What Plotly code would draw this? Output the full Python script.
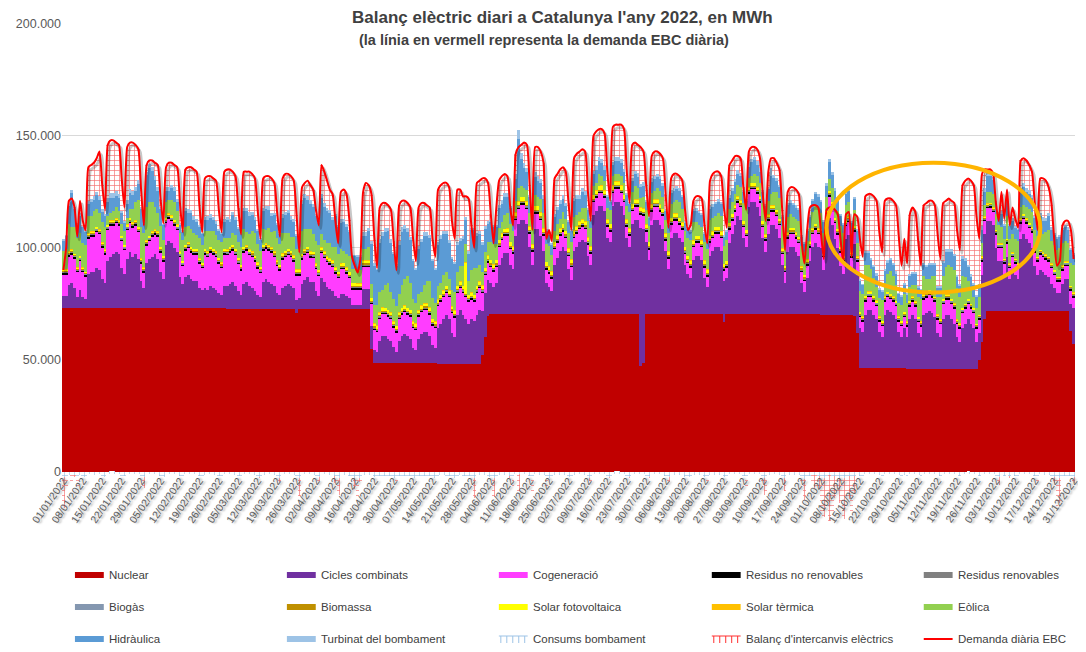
import pandas as pd
import plotly.graph_objects as go

FONT = "Liberation Sans, Arial, sans-serif"

DIES = pd.date_range("2022-01-01", "2022-12-31", freq="D")
TICKS = pd.date_range("2022-01-01", "2022-12-31", freq="7D")

# Daily values in thousands of MWh, one line per month (Jan ... Dec)
DEMANDA = [
    90, 100, 121, 122, 118, 105, 121, 112, 108, 136, 137, 138, 140, 143, 128, 117, 146, 148, 148, 147, 146, 131, 118, 145, 147, 147, 146, 144, 126, 110, 137,
    139, 139, 138, 137, 122, 111, 136, 138, 138, 137, 136, 120, 107, 135, 136, 136, 135, 134, 119, 107, 131, 132, 132, 131, 130, 117, 107, 134,
    135, 135, 134, 132, 118, 106, 134, 134, 134, 133, 131, 117, 104, 131, 132, 132, 131, 129, 116, 105, 131, 133, 133, 132, 130, 115, 98, 127, 129, 130, 128,
    126, 117, 110, 137, 134, 130, 126, 124, 112, 102, 125, 126, 124, 113, 96, 92, 89, 95, 125, 129, 128, 124, 105, 91, 118, 120, 120, 119, 117, 103,
    90, 119, 121, 121, 120, 118, 104, 94, 118, 120, 120, 119, 118, 104, 96, 126, 128, 129, 129, 127, 112, 104, 126, 126, 123, 123, 122, 110, 100, 129, 130,
    131, 131, 129, 115, 102, 118, 130, 132, 133, 132, 118, 110, 142, 145, 146, 147, 146, 128, 108, 145, 145, 143, 138, 104, 108, 103, 131, 133, 135, 136,
    134, 120, 108, 140, 142, 143, 144, 143, 125, 112, 150, 152, 153, 153, 151, 134, 121, 154, 155, 155, 155, 153, 134, 120, 146, 147, 146, 145, 143, 128, 114,
    141, 143, 143, 142, 140, 124, 109, 131, 133, 133, 132, 130, 117, 108, 110, 121, 123, 123, 122, 110, 102, 130, 133, 134, 134, 132, 118, 109, 137, 139, 141,
    141, 140, 127, 117, 143, 145, 145, 144, 140, 124, 112, 134, 140, 140, 138, 135, 117, 99, 125, 127, 127, 126, 124, 103, 93, 108, 118, 119, 119, 118,
    106, 95, 117, 118, 118, 117, 115, 104, 93, 115, 116, 96, 115, 114, 104, 96, 123, 124, 124, 123, 121, 107, 98, 121, 122, 122, 121, 119, 105, 92, 104,
    93, 115, 118, 116, 103, 92, 119, 120, 121, 121, 119, 106, 95, 120, 121, 122, 121, 120, 108, 99, 128, 130, 131, 130, 128, 114, 104, 133, 135, 135,
    135, 133, 120, 112, 125, 113, 126, 110, 118, 113, 109, 139, 140, 139, 137, 134, 120, 108, 131, 131, 130, 127, 120, 104, 92, 94, 110, 112, 112, 108, 95,
]

NUCLEAR = [
    73.3, 73.3, 73.3, 73.2, 73.2, 73.2, 73.2, 73.2, 73.2, 73.2, 73.2, 73.2, 73.2, 73.2, 73.2, 73.2, 73.1, 73.1, 73.1, 73.1, 73.1, 73.1, 73.1, 73.1, 73.1, 73.1, 73.1, 73.1, 73.1, 73.1, 73.1,
    73.1, 73.1, 73.1, 73.1, 73.1, 73.1, 73.1, 73.1, 73.1, 73.1, 73.0, 73.0, 73.0, 73.0, 73.0, 73.0, 73.0, 73.0, 73.0, 73.0, 73.0, 73.0, 73.0, 73.0, 73.0, 73.0, 73.0, 73.0,
    72.9, 72.9, 72.9, 72.9, 72.9, 72.9, 72.9, 72.9, 72.9, 72.9, 72.9, 72.9, 72.9, 72.9, 72.9, 72.9, 72.9, 72.9, 72.9, 72.9, 72.9, 72.9, 72.9, 72.9, 72.9, 70.8, 72.8, 72.8, 72.8, 72.8, 72.8,
    72.7, 72.7, 72.7, 72.7, 72.7, 72.7, 72.7, 72.7, 72.7, 72.7, 72.6, 72.6, 72.6, 72.6, 72.6, 72.6, 72.6, 72.6, 72.6, 72.6, 72.6, 55.0, 48.5, 48.5, 48.5, 48.5, 48.5, 48.5, 48.5, 48.5,
    48.4, 48.4, 48.4, 48.4, 48.4, 48.4, 48.4, 48.4, 48.4, 48.4, 48.4, 48.4, 48.4, 48.4, 48.4, 48.1, 48.1, 48.1, 48.1, 48.1, 48.1, 48.1, 48.1, 48.1, 48.1, 48.1, 48.1, 48.1, 48.1, 48.1, 48.1,
    52.0, 60.0, 69.5, 70.5, 70.5, 70.5, 70.5, 70.5, 70.5, 70.5, 70.5, 70.5, 70.5, 70.5, 70.5, 70.5, 70.5, 70.5, 70.5, 70.5, 70.5, 70.5, 70.5, 70.5, 70.5, 70.5, 70.5, 70.5, 70.5, 70.5,
    70.5, 70.5, 70.5, 70.5, 70.5, 70.5, 70.5, 70.5, 70.5, 70.5, 70.5, 70.5, 70.5, 70.5, 70.5, 70.5, 70.5, 70.5, 70.5, 70.5, 70.5, 70.5, 70.5, 70.5, 70.5, 70.5, 70.5, 47.0, 48.5, 70.4, 70.4,
    70.4, 70.4, 70.4, 70.4, 70.4, 70.4, 70.4, 70.4, 70.4, 70.4, 70.4, 70.4, 70.4, 70.4, 70.4, 70.4, 70.4, 70.4, 70.4, 70.4, 70.4, 70.4, 70.4, 70.4, 70.4, 70.4, 67.0, 70.3, 70.3, 70.3, 70.3,
    70.3, 70.3, 70.3, 70.3, 70.3, 70.3, 70.3, 70.3, 70.3, 70.3, 70.3, 70.3, 70.3, 70.3, 70.3, 70.3, 70.3, 70.3, 70.3, 70.3, 70.3, 70.3, 70.3, 70.3, 70.3, 70.3, 70.3, 70.3, 70.3, 70.3,
    70.1, 70.1, 70.1, 70.1, 70.1, 70.1, 70.1, 70.1, 70.1, 69.8, 69.8, 69.8, 69.5, 62.0, 46.2, 46.2, 46.2, 46.2, 46.2, 46.2, 46.2, 46.2, 46.2, 46.2, 46.2, 46.2, 46.2, 46.2, 46.2, 46.2, 46.2,
    46.0, 46.0, 46.0, 46.0, 46.0, 46.0, 46.0, 46.0, 46.0, 46.0, 46.0, 46.0, 46.0, 46.0, 46.0, 46.0, 46.0, 46.0, 46.0, 46.0, 46.0, 46.0, 46.0, 46.0, 46.0, 46.0, 50.0, 58.0, 68.0, 71.8,
    72.0, 72.0, 72.0, 72.0, 72.0, 72.0, 72.0, 72.0, 72.0, 72.0, 72.0, 72.0, 72.0, 72.0, 72.0, 72.0, 72.0, 72.0, 72.0, 72.0, 72.0, 72.0, 72.0, 72.0, 72.0, 72.0, 72.0, 72.0, 72.0, 63.0, 57.0,
]

CICLES = [
    5, 5, 10, 11, 9, 5, 8, 5, 4, 15, 16, 16, 18, 17, 13, 11, 21, 23, 24, 25, 24, 18, 15, 22, 25, 23, 24, 22, 12, 9, 20,
    22, 23, 24, 22, 16, 13, 28, 30, 29, 27, 25, 14, 11, 14, 15, 13, 12, 12, 9, 8, 9, 8, 10, 9, 8, 7, 6, 10,
    10, 11, 12, 10, 8, 6, 11, 12, 10, 9, 8, 6, 5, 12, 13, 12, 11, 10, 7, 6, 9, 10, 11, 10, 9, 6, 5, 11, 13, 14, 12,
    12, 8, 6, 14, 12, 10, 9, 8, 6, 5, 7, 7, 6, 5, 2, 2, 2, 2, 9, 9, 9, 10, 6, 5, 10, 12, 12, 11, 10, 7,
    5, 10, 12, 13, 12, 11, 7, 6, 11, 13, 14, 14, 12, 8, 7, 16, 18, 20, 22, 20, 14, 12, 22, 24, 22, 20, 18, 20, 19, 22, 24,
    20, 20, 16, 14, 12, 14, 22, 25, 27, 27, 22, 20, 35, 40, 42, 42, 40, 30, 22, 38, 38, 35, 28, 14, 12, 10, 22, 25, 28, 30,
    28, 20, 15, 28, 30, 32, 33, 32, 26, 22, 44, 46, 48, 48, 46, 34, 32, 48, 50, 50, 48, 44, 34, 30, 40, 42, 42, 62, 60, 32, 24,
    40, 42, 42, 40, 38, 28, 20, 34, 36, 36, 34, 32, 22, 18, 16, 24, 26, 26, 24, 16, 12, 26, 28, 30, 30, 28, 18, 16, 32, 36, 40,
    44, 42, 34, 30, 48, 50, 50, 48, 44, 34, 28, 36, 40, 40, 38, 34, 22, 14, 28, 30, 30, 28, 26, 14, 10, 16, 24, 30, 32, 30,
    30, 20, 36, 43, 40, 34, 30, 22, 18, 34, 36, 20, 32, 26, 18, 16, 24, 26, 26, 24, 22, 16, 14, 24, 26, 25, 24, 22, 16, 14, 18,
    14, 22, 24, 22, 16, 14, 24, 25, 26, 25, 23, 16, 14, 22, 24, 24, 22, 20, 14, 12, 18, 20, 22, 20, 18, 12, 12, 30, 38, 40,
    40, 38, 28, 22, 22, 16, 24, 14, 18, 16, 14, 32, 34, 32, 30, 28, 20, 16, 18, 17, 16, 15, 12, 10, 8, 8, 12, 14, 14, 12, 16,
]

COGENERACIO = [
    10, 10, 13, 13, 13, 11, 13, 11, 10, 16, 16, 16, 16, 16, 14, 13, 14, 14, 13, 13, 13, 12, 11, 13, 13, 13, 13, 12, 8, 7, 8,
    8, 9, 9, 10, 9, 8, 10, 10, 10, 10, 10, 9, 8, 12, 12, 12, 12, 12, 11, 10, 15, 15, 15, 15, 15, 13, 12, 14,
    14, 14, 14, 14, 12, 11, 14, 14, 14, 14, 13, 12, 11, 14, 14, 14, 14, 13, 12, 11, 13, 13, 13, 13, 12, 11, 10, 11, 11, 11, 11,
    11, 10, 9, 11, 11, 11, 11, 11, 10, 9, 11, 11, 10, 9, 7, 7, 7, 7, 10, 10, 10, 10, 9, 9, 10, 10, 10, 10, 10, 9,
    9, 10, 10, 10, 10, 10, 9, 9, 10, 10, 10, 10, 10, 9, 9, 10, 10, 10, 10, 10, 9, 9, 10, 10, 10, 10, 10, 9, 9, 10, 10,
    8, 8, 8, 7, 7, 7, 8, 8, 8, 8, 7, 7, 7, 7, 7, 7, 7, 6, 6, 7, 7, 7, 7, 6, 6, 6, 7, 7, 7, 7,
    6, 6, 6, 6, 6, 6, 6, 6, 5, 5, 6, 6, 6, 6, 6, 5, 5, 6, 6, 6, 6, 6, 5, 5, 6, 6, 6, 6, 6, 5, 5,
    6, 6, 6, 6, 6, 5, 5, 6, 6, 6, 6, 6, 5, 5, 5, 6, 6, 6, 6, 5, 5, 6, 6, 6, 6, 6, 5, 5, 6, 6, 6,
    6, 6, 5, 5, 6, 6, 6, 6, 6, 5, 5, 6, 6, 6, 6, 6, 5, 5, 6, 6, 6, 6, 6, 5, 5, 6, 6, 6, 6, 6,
    6, 6, 8, 10, 8, 7, 6, 6, 6, 6, 6, 6, 6, 6, 5, 5, 6, 6, 6, 6, 6, 5, 5, 6, 6, 6, 6, 6, 5, 5, 5,
    5, 6, 6, 6, 5, 5, 7, 7, 7, 7, 7, 6, 6, 7, 7, 7, 7, 7, 6, 6, 7, 7, 7, 7, 7, 6, 6, 6, 6, 6,
    6, 6, 6, 6, 6, 5, 6, 5, 6, 5, 5, 7, 7, 7, 7, 7, 6, 6, 7, 7, 7, 7, 7, 6, 5, 5, 6, 6, 6, 6, 5,
]

RESIDUS_NR = [
    0.7, 0.7, 0.7, 0.7, 0.7, 0.7, 0.7, 0.7, 0.7, 0.7, 0.7, 0.7, 0.7, 0.7, 0.7, 0.7, 0.7, 0.7, 0.7, 0.7, 0.7, 0.7, 0.7, 0.7, 0.7, 0.7, 0.7, 0.7, 0.7, 0.7, 0.7,
    0.7, 0.7, 0.7, 0.7, 0.7, 0.7, 0.7, 0.7, 0.7, 0.7, 0.7, 0.7, 0.7, 0.7, 0.7, 0.7, 0.7, 0.7, 0.7, 0.7, 0.7, 0.7, 0.7, 0.7, 0.7, 0.7, 0.7, 0.7,
    0.7, 0.7, 0.7, 0.7, 0.7, 0.7, 0.7, 0.7, 0.7, 0.7, 0.7, 0.7, 0.7, 0.7, 0.7, 0.7, 0.7, 0.7, 0.7, 0.7, 0.7, 0.7, 0.7, 0.7, 0.7, 0.7, 0.7, 0.7, 0.7, 0.7, 0.7,
    0.6, 0.6, 0.6, 0.6, 0.6, 0.6, 0.6, 0.6, 0.6, 0.6, 0.6, 0.6, 0.6, 0.6, 0.6, 0.6, 0.6, 0.6, 0.6, 0.6, 0.6, 0.6, 0.6, 0.6, 0.6, 0.6, 0.6, 0.6, 0.6, 0.6,
    0.6, 0.6, 0.6, 0.6, 0.6, 0.6, 0.6, 0.6, 0.6, 0.6, 0.6, 0.6, 0.6, 0.6, 0.6, 0.6, 0.6, 0.6, 0.6, 0.6, 0.6, 0.6, 0.6, 0.6, 0.6, 0.6, 0.6, 0.6, 0.6, 0.6, 0.6,
    0.7, 0.7, 0.7, 0.7, 0.7, 0.7, 0.7, 0.7, 0.7, 0.7, 0.7, 0.7, 0.7, 0.7, 0.7, 0.7, 0.7, 0.7, 0.7, 0.7, 0.7, 0.7, 0.7, 0.7, 0.7, 0.7, 0.7, 0.7, 0.7, 0.7,
    0.7, 0.7, 0.7, 0.7, 0.7, 0.7, 0.7, 0.7, 0.7, 0.7, 0.7, 0.7, 0.7, 0.7, 0.7, 0.7, 0.7, 0.7, 0.7, 0.7, 0.7, 0.7, 0.7, 0.7, 0.7, 0.7, 0.7, 0.7, 0.7, 0.7, 0.7,
    0.7, 0.7, 0.7, 0.7, 0.7, 0.7, 0.7, 0.7, 0.7, 0.7, 0.7, 0.7, 0.7, 0.7, 0.7, 0.7, 0.7, 0.7, 0.7, 0.7, 0.7, 0.7, 0.7, 0.7, 0.7, 0.7, 0.7, 0.7, 0.7, 0.7, 0.7,
    0.7, 0.7, 0.7, 0.7, 0.7, 0.7, 0.7, 0.7, 0.7, 0.7, 0.7, 0.7, 0.7, 0.7, 0.7, 0.7, 0.7, 0.7, 0.7, 0.7, 0.7, 0.7, 0.7, 0.7, 0.7, 0.7, 0.7, 0.7, 0.7, 0.7,
    0.6, 0.6, 0.6, 0.6, 0.6, 0.6, 0.6, 0.6, 0.6, 0.6, 0.6, 0.6, 0.6, 0.6, 0.6, 0.6, 0.6, 0.6, 0.6, 0.6, 0.6, 0.6, 0.6, 0.6, 0.6, 0.6, 0.6, 0.6, 0.6, 0.6, 0.6,
    0.7, 0.7, 0.7, 0.7, 0.7, 0.7, 0.7, 0.7, 0.7, 0.7, 0.7, 0.7, 0.7, 0.7, 0.7, 0.7, 0.7, 0.7, 0.7, 0.7, 0.7, 0.7, 0.7, 0.7, 0.7, 0.7, 0.7, 0.7, 0.7, 0.7,
    0.7, 0.7, 0.7, 0.7, 0.7, 0.7, 0.7, 0.7, 0.7, 0.7, 0.7, 0.7, 0.7, 0.7, 0.7, 0.7, 0.7, 0.7, 0.7, 0.7, 0.7, 0.7, 0.7, 0.7, 0.7, 0.7, 0.7, 0.7, 0.7, 0.7, 0.7,
]

RESIDUS_R = [
    0.4, 0.4, 0.4, 0.4, 0.4, 0.4, 0.4, 0.4, 0.4, 0.4, 0.4, 0.4, 0.4, 0.4, 0.4, 0.4, 0.4, 0.4, 0.4, 0.4, 0.4, 0.4, 0.4, 0.4, 0.4, 0.4, 0.4, 0.4, 0.4, 0.4, 0.4,
    0.4, 0.4, 0.4, 0.4, 0.4, 0.4, 0.4, 0.4, 0.4, 0.4, 0.4, 0.4, 0.4, 0.4, 0.4, 0.4, 0.4, 0.4, 0.4, 0.4, 0.4, 0.4, 0.4, 0.4, 0.4, 0.4, 0.4, 0.4,
    0.4, 0.4, 0.4, 0.4, 0.4, 0.4, 0.4, 0.4, 0.4, 0.4, 0.4, 0.4, 0.4, 0.4, 0.4, 0.4, 0.4, 0.4, 0.4, 0.4, 0.4, 0.4, 0.4, 0.4, 0.4, 0.4, 0.4, 0.4, 0.4, 0.4, 0.4,
    0.3, 0.3, 0.3, 0.3, 0.3, 0.3, 0.3, 0.3, 0.3, 0.3, 0.3, 0.3, 0.3, 0.3, 0.3, 0.3, 0.3, 0.3, 0.3, 0.3, 0.3, 0.3, 0.3, 0.3, 0.3, 0.3, 0.3, 0.3, 0.3, 0.3,
    0.3, 0.3, 0.3, 0.3, 0.3, 0.3, 0.3, 0.3, 0.3, 0.3, 0.3, 0.3, 0.3, 0.3, 0.3, 0.3, 0.3, 0.3, 0.3, 0.3, 0.3, 0.3, 0.3, 0.3, 0.3, 0.3, 0.3, 0.3, 0.3, 0.3, 0.3,
    0.3, 0.3, 0.3, 0.3, 0.3, 0.3, 0.3, 0.3, 0.3, 0.3, 0.3, 0.3, 0.3, 0.3, 0.3, 0.3, 0.3, 0.3, 0.3, 0.3, 0.3, 0.3, 0.3, 0.3, 0.3, 0.3, 0.3, 0.3, 0.3, 0.3,
    0.3, 0.3, 0.3, 0.3, 0.3, 0.3, 0.3, 0.3, 0.3, 0.3, 0.3, 0.3, 0.3, 0.3, 0.3, 0.3, 0.3, 0.3, 0.3, 0.3, 0.3, 0.3, 0.3, 0.3, 0.3, 0.3, 0.3, 0.3, 0.3, 0.3, 0.3,
    0.3, 0.3, 0.3, 0.3, 0.3, 0.3, 0.3, 0.3, 0.3, 0.3, 0.3, 0.3, 0.3, 0.3, 0.3, 0.3, 0.3, 0.3, 0.3, 0.3, 0.3, 0.3, 0.3, 0.3, 0.3, 0.3, 0.3, 0.3, 0.3, 0.3, 0.3,
    0.3, 0.3, 0.3, 0.3, 0.3, 0.3, 0.3, 0.3, 0.3, 0.3, 0.3, 0.3, 0.3, 0.3, 0.3, 0.3, 0.3, 0.3, 0.3, 0.3, 0.3, 0.3, 0.3, 0.3, 0.3, 0.3, 0.3, 0.3, 0.3, 0.3,
    0.4, 0.4, 0.4, 0.4, 0.4, 0.4, 0.4, 0.4, 0.4, 0.4, 0.4, 0.4, 0.4, 0.4, 0.4, 0.4, 0.4, 0.4, 0.4, 0.4, 0.4, 0.4, 0.4, 0.4, 0.4, 0.4, 0.4, 0.4, 0.4, 0.4, 0.4,
    0.4, 0.4, 0.4, 0.4, 0.4, 0.4, 0.4, 0.4, 0.4, 0.4, 0.4, 0.4, 0.4, 0.4, 0.4, 0.4, 0.4, 0.4, 0.4, 0.4, 0.4, 0.4, 0.4, 0.4, 0.4, 0.4, 0.4, 0.4, 0.4, 0.4,
    0.4, 0.4, 0.4, 0.4, 0.4, 0.4, 0.4, 0.4, 0.4, 0.4, 0.4, 0.4, 0.4, 0.4, 0.4, 0.4, 0.4, 0.4, 0.4, 0.4, 0.4, 0.4, 0.4, 0.4, 0.4, 0.4, 0.4, 0.4, 0.4, 0.4, 0.4,
]

BIOGAS = [
    0.2, 0.2, 0.2, 0.2, 0.2, 0.2, 0.2, 0.2, 0.2, 0.2, 0.2, 0.2, 0.2, 0.2, 0.2, 0.2, 0.2, 0.2, 0.2, 0.2, 0.2, 0.2, 0.2, 0.2, 0.2, 0.2, 0.2, 0.2, 0.2, 0.2, 0.2,
    0.2, 0.2, 0.2, 0.2, 0.2, 0.2, 0.2, 0.2, 0.2, 0.2, 0.2, 0.2, 0.2, 0.2, 0.2, 0.2, 0.2, 0.2, 0.2, 0.2, 0.2, 0.2, 0.2, 0.2, 0.2, 0.2, 0.2, 0.2,
    0.2, 0.2, 0.2, 0.2, 0.2, 0.2, 0.2, 0.2, 0.2, 0.2, 0.2, 0.2, 0.2, 0.2, 0.2, 0.2, 0.2, 0.2, 0.2, 0.2, 0.2, 0.2, 0.2, 0.2, 0.2, 0.2, 0.2, 0.2, 0.2, 0.2, 0.2,
    0.2, 0.2, 0.2, 0.2, 0.2, 0.2, 0.2, 0.2, 0.2, 0.2, 0.2, 0.2, 0.2, 0.2, 0.2, 0.2, 0.2, 0.2, 0.2, 0.2, 0.2, 0.2, 0.2, 0.2, 0.2, 0.2, 0.2, 0.2, 0.2, 0.2,
    0.2, 0.2, 0.2, 0.2, 0.2, 0.2, 0.2, 0.2, 0.2, 0.2, 0.2, 0.2, 0.2, 0.2, 0.2, 0.2, 0.2, 0.2, 0.2, 0.2, 0.2, 0.2, 0.2, 0.2, 0.2, 0.2, 0.2, 0.2, 0.2, 0.2, 0.2,
    0.2, 0.2, 0.2, 0.2, 0.2, 0.2, 0.2, 0.2, 0.2, 0.2, 0.2, 0.2, 0.2, 0.2, 0.2, 0.2, 0.2, 0.2, 0.2, 0.2, 0.2, 0.2, 0.2, 0.2, 0.2, 0.2, 0.2, 0.2, 0.2, 0.2,
    0.2, 0.2, 0.2, 0.2, 0.2, 0.2, 0.2, 0.2, 0.2, 0.2, 0.2, 0.2, 0.2, 0.2, 0.2, 0.2, 0.2, 0.2, 0.2, 0.2, 0.2, 0.2, 0.2, 0.2, 0.2, 0.2, 0.2, 0.2, 0.2, 0.2, 0.2,
    0.2, 0.2, 0.2, 0.2, 0.2, 0.2, 0.2, 0.2, 0.2, 0.2, 0.2, 0.2, 0.2, 0.2, 0.2, 0.2, 0.2, 0.2, 0.2, 0.2, 0.2, 0.2, 0.2, 0.2, 0.2, 0.2, 0.2, 0.2, 0.2, 0.2, 0.2,
    0.2, 0.2, 0.2, 0.2, 0.2, 0.2, 0.2, 0.2, 0.2, 0.2, 0.2, 0.2, 0.2, 0.2, 0.2, 0.2, 0.2, 0.2, 0.2, 0.2, 0.2, 0.2, 0.2, 0.2, 0.2, 0.2, 0.2, 0.2, 0.2, 0.2,
    0.2, 0.2, 0.2, 0.2, 0.2, 0.2, 0.2, 0.2, 0.2, 0.2, 0.2, 0.2, 0.2, 0.2, 0.2, 0.2, 0.2, 0.2, 0.2, 0.2, 0.2, 0.2, 0.2, 0.2, 0.2, 0.2, 0.2, 0.2, 0.2, 0.2, 0.2,
    0.2, 0.2, 0.2, 0.2, 0.2, 0.2, 0.2, 0.2, 0.2, 0.2, 0.2, 0.2, 0.2, 0.2, 0.2, 0.2, 0.2, 0.2, 0.2, 0.2, 0.2, 0.2, 0.2, 0.2, 0.2, 0.2, 0.2, 0.2, 0.2, 0.2,
    0.2, 0.2, 0.2, 0.2, 0.2, 0.2, 0.2, 0.2, 0.2, 0.2, 0.2, 0.2, 0.2, 0.2, 0.2, 0.2, 0.2, 0.2, 0.2, 0.2, 0.2, 0.2, 0.2, 0.2, 0.2, 0.2, 0.2, 0.2, 0.2, 0.2, 0.2,
]

BIOMASSA = [
    0.3, 0.3, 0.3, 0.3, 0.3, 0.3, 0.3, 0.3, 0.3, 0.3, 0.3, 0.3, 0.3, 0.3, 0.3, 0.3, 0.3, 0.3, 0.3, 0.3, 0.3, 0.3, 0.3, 0.3, 0.3, 0.3, 0.3, 0.3, 0.3, 0.3, 0.3,
    0.3, 0.3, 0.3, 0.3, 0.3, 0.3, 0.3, 0.3, 0.3, 0.3, 0.3, 0.3, 0.3, 0.3, 0.3, 0.3, 0.3, 0.3, 0.3, 0.3, 0.3, 0.3, 0.3, 0.3, 0.3, 0.3, 0.3, 0.3,
    0.3, 0.3, 0.3, 0.3, 0.3, 0.3, 0.3, 0.3, 0.3, 0.3, 0.3, 0.3, 0.3, 0.3, 0.3, 0.3, 0.3, 0.3, 0.3, 0.3, 0.3, 0.3, 0.3, 0.3, 0.3, 0.3, 0.3, 0.3, 0.3, 0.3, 0.3,
    0.3, 0.3, 0.3, 0.3, 0.3, 0.3, 0.3, 0.3, 0.3, 0.3, 0.3, 0.3, 0.3, 0.3, 0.3, 0.3, 0.3, 0.3, 0.3, 0.3, 0.3, 0.3, 0.3, 0.3, 0.3, 0.3, 0.3, 0.3, 0.3, 0.3,
    0.3, 0.3, 0.3, 0.3, 0.3, 0.3, 0.3, 0.3, 0.3, 0.3, 0.3, 0.3, 0.3, 0.3, 0.3, 0.3, 0.3, 0.3, 0.3, 0.3, 0.3, 0.3, 0.3, 0.3, 0.3, 0.3, 0.3, 0.3, 0.3, 0.3, 0.3,
    0.3, 0.3, 0.3, 0.3, 0.3, 0.3, 0.3, 0.3, 0.3, 0.3, 0.3, 0.3, 0.3, 0.3, 0.3, 0.3, 0.3, 0.3, 0.3, 0.3, 0.3, 0.3, 0.3, 0.3, 0.3, 0.3, 0.3, 0.3, 0.3, 0.3,
    0.3, 0.3, 0.3, 0.3, 0.3, 0.3, 0.3, 0.3, 0.3, 0.3, 0.3, 0.3, 0.3, 0.3, 0.3, 0.3, 0.3, 0.3, 0.3, 0.3, 0.3, 0.3, 0.3, 0.3, 0.3, 0.3, 0.3, 0.3, 0.3, 0.3, 0.3,
    0.3, 0.3, 0.3, 0.3, 0.3, 0.3, 0.3, 0.3, 0.3, 0.3, 0.3, 0.3, 0.3, 0.3, 0.3, 0.3, 0.3, 0.3, 0.3, 0.3, 0.3, 0.3, 0.3, 0.3, 0.3, 0.3, 0.3, 0.3, 0.3, 0.3, 0.3,
    0.3, 0.3, 0.3, 0.3, 0.3, 0.3, 0.3, 0.3, 0.3, 0.3, 0.3, 0.3, 0.3, 0.3, 0.3, 0.3, 0.3, 0.3, 0.3, 0.3, 0.3, 0.3, 0.3, 0.3, 0.3, 0.3, 0.3, 0.3, 0.3, 0.3,
    0.3, 0.3, 0.3, 0.3, 0.3, 0.3, 0.3, 0.3, 0.3, 0.3, 0.3, 0.3, 0.3, 0.3, 0.3, 0.3, 0.3, 0.3, 0.3, 0.3, 0.3, 0.3, 0.3, 0.3, 0.3, 0.3, 0.3, 0.3, 0.3, 0.3, 0.3,
    0.3, 0.3, 0.3, 0.3, 0.3, 0.3, 0.3, 0.3, 0.3, 0.3, 0.3, 0.3, 0.3, 0.3, 0.3, 0.3, 0.3, 0.3, 0.3, 0.3, 0.3, 0.3, 0.3, 0.3, 0.3, 0.3, 0.3, 0.3, 0.3, 0.3,
    0.3, 0.3, 0.3, 0.3, 0.3, 0.3, 0.3, 0.3, 0.3, 0.3, 0.3, 0.3, 0.3, 0.3, 0.3, 0.3, 0.3, 0.3, 0.3, 0.3, 0.3, 0.3, 0.3, 0.3, 0.3, 0.3, 0.3, 0.3, 0.3, 0.3, 0.3,
]

SOLAR_FV = [
    0.5, 0.5, 0.6, 0.6, 0.6, 0.6, 0.6, 0.5, 0.6, 0.6, 0.6, 0.6, 0.6, 0.6, 0.6, 0.6, 0.6, 0.7, 0.6, 0.6, 0.7, 0.7, 0.6, 0.7, 0.7, 0.7, 0.7, 0.7, 0.7, 0.7, 0.7,
    0.7, 0.8, 0.7, 0.8, 0.8, 0.7, 0.8, 0.8, 0.8, 0.8, 0.8, 0.8, 0.7, 0.8, 0.9, 0.8, 0.9, 0.9, 0.8, 0.8, 0.9, 0.9, 0.9, 0.9, 0.9, 0.9, 0.9, 0.9,
    0.9, 1.0, 0.9, 1.0, 1.0, 1.0, 0.9, 0.7, 0.8, 1.0, 1.0, 1.0, 1.0, 0.8, 0.6, 0.5, 0.7, 0.9, 1.0, 1.0, 1.0, 1.1, 1.0, 1.1, 1.1, 1.0, 1.1, 1.0, 0.9, 1.1, 1.1,
    1.1, 1.1, 1.0, 1.1, 1.2, 1.1, 1.2, 1.2, 1.2, 1.2, 1.2, 1.3, 1.2, 1.3, 1.3, 1.3, 1.2, 1.2, 1.3, 1.3, 1.3, 1.2, 1.3, 1.4, 1.3, 1.4, 1.3, 1.4, 1.4, 1.4,
    1.3, 1.4, 1.4, 1.4, 1.4, 1.5, 1.4, 1.4, 1.4, 1.5, 1.5, 1.4, 1.5, 1.5, 1.4, 1.5, 1.5, 1.5, 1.5, 1.5, 1.5, 1.5, 1.5, 1.5, 1.5, 14.0, 1.5, 1.6, 1.5, 1.5, 1.6,
    1.6, 1.6, 1.6, 1.6, 1.6, 1.6, 1.6, 1.6, 1.5, 1.6, 1.7, 1.6, 1.7, 1.7, 1.7, 1.7, 1.7, 1.6, 1.7, 1.7, 1.7, 1.7, 1.6, 1.7, 1.7, 1.6, 1.6, 1.6, 1.6, 1.7,
    1.6, 1.7, 1.7, 1.7, 1.7, 1.7, 1.7, 1.7, 1.7, 1.7, 1.7, 1.8, 1.7, 1.8, 1.8, 1.7, 1.7, 1.8, 1.8, 1.7, 1.8, 1.7, 1.7, 1.7, 1.7, 1.7, 1.7, 1.7, 1.7, 1.7, 1.7,
    1.6, 1.6, 1.6, 1.6, 1.5, 1.6, 1.5, 1.5, 1.5, 1.5, 1.5, 1.5, 1.5, 1.5, 1.5, 1.4, 1.5, 1.4, 1.5, 1.4, 1.4, 1.4, 1.4, 1.4, 1.4, 1.4, 1.3, 1.4, 1.3, 1.4, 1.3,
    1.3, 1.3, 1.3, 1.3, 1.3, 1.3, 1.3, 1.3, 1.2, 1.3, 1.2, 1.2, 1.2, 1.2, 1.1, 1.2, 1.1, 1.2, 1.1, 1.1, 1.1, 1.1, 1.1, 1.0, 1.1, 1.0, 1.0, 1.0, 1.0, 1.0,
    0.9, 0.9, 0.9, 0.9, 0.9, 0.9, 0.9, 0.9, 0.9, 0.9, 0.9, 0.8, 0.8, 0.8, 0.8, 0.8, 0.8, 0.8, 0.8, 0.8, 0.8, 0.8, 0.8, 0.7, 0.7, 0.7, 0.7, 0.7, 0.7, 0.7, 0.7,
    0.6, 0.7, 0.7, 0.6, 0.6, 0.6, 0.6, 0.6, 0.6, 0.6, 0.6, 0.6, 0.6, 0.6, 0.6, 0.6, 0.6, 0.6, 0.6, 0.6, 0.6, 0.5, 0.6, 0.5, 0.6, 0.5, 0.5, 0.5, 0.5, 0.5,
    0.5, 0.5, 0.5, 0.5, 0.5, 0.5, 0.5, 0.5, 0.5, 0.5, 0.5, 0.5, 0.5, 0.5, 0.5, 0.5, 0.5, 0.5, 0.5, 0.5, 0.5, 0.5, 0.5, 0.5, 0.5, 0.5, 0.5, 0.5, 0.5, 0.5, 0.5,
]

SOLAR_TERMICA = [
    0.02, 0.02, 0.02, 0.02, 0.02, 0.02, 0.02, 0.02, 0.02, 0.02, 0.02, 0.02, 0.02, 0.02, 0.02, 0.02, 0.02, 0.02, 0.02, 0.02, 0.02, 0.02, 0.02, 0.02, 0.02, 0.02, 0.02, 0.02, 0.02, 0.02, 0.02,
    0.03, 0.03, 0.03, 0.03, 0.03, 0.03, 0.03, 0.03, 0.03, 0.03, 0.03, 0.03, 0.03, 0.03, 0.03, 0.03, 0.03, 0.03, 0.03, 0.03, 0.03, 0.03, 0.03, 0.03, 0.03, 0.03, 0.03, 0.03,
    0.04, 0.04, 0.04, 0.04, 0.04, 0.04, 0.04, 0.04, 0.04, 0.04, 0.04, 0.04, 0.04, 0.04, 0.04, 0.04, 0.04, 0.04, 0.04, 0.04, 0.04, 0.04, 0.04, 0.04, 0.04, 0.04, 0.04, 0.04, 0.04, 0.04, 0.04,
    0.06, 0.06, 0.06, 0.06, 0.06, 0.06, 0.06, 0.06, 0.06, 0.06, 0.06, 0.06, 0.06, 0.06, 0.06, 0.06, 0.06, 0.06, 0.06, 0.06, 0.06, 0.06, 0.06, 0.06, 0.06, 0.06, 0.06, 0.06, 0.06, 0.06,
    0.08, 0.08, 0.08, 0.08, 0.08, 0.08, 0.08, 0.08, 0.08, 0.08, 0.08, 0.08, 0.08, 0.08, 0.08, 0.08, 0.08, 0.08, 0.08, 0.08, 0.08, 0.08, 0.08, 0.08, 0.08, 0.08, 0.08, 0.08, 0.08, 0.08, 0.08,
    0.09, 0.09, 0.09, 0.09, 0.09, 0.09, 0.09, 0.09, 0.09, 0.09, 0.09, 0.09, 0.09, 0.09, 0.09, 0.09, 0.09, 0.09, 0.09, 0.09, 0.09, 0.09, 0.09, 0.09, 0.09, 0.09, 0.09, 0.09, 0.09, 0.09,
    0.09, 0.09, 0.09, 0.09, 0.09, 0.09, 0.09, 0.09, 0.09, 0.09, 0.09, 0.09, 0.09, 0.09, 0.09, 0.09, 0.09, 0.09, 0.09, 0.09, 0.09, 0.09, 0.09, 0.09, 0.09, 0.09, 0.09, 0.09, 0.09, 0.09, 0.09,
    0.08, 0.08, 0.08, 0.08, 0.08, 0.08, 0.08, 0.08, 0.08, 0.08, 0.08, 0.08, 0.08, 0.08, 0.08, 0.08, 0.08, 0.08, 0.08, 0.08, 0.08, 0.08, 0.08, 0.08, 0.08, 0.08, 0.08, 0.08, 0.08, 0.08, 0.08,
    0.06, 0.06, 0.06, 0.06, 0.06, 0.06, 0.06, 0.06, 0.06, 0.06, 0.06, 0.06, 0.06, 0.06, 0.06, 0.06, 0.06, 0.06, 0.06, 0.06, 0.06, 0.06, 0.06, 0.06, 0.06, 0.06, 0.06, 0.06, 0.06, 0.06,
    0.04, 0.04, 0.04, 0.04, 0.04, 0.04, 0.04, 0.04, 0.04, 0.04, 0.04, 0.04, 0.04, 0.04, 0.04, 0.04, 0.04, 0.04, 0.04, 0.04, 0.04, 0.04, 0.04, 0.04, 0.04, 0.04, 0.04, 0.04, 0.04, 0.04, 0.04,
    0.03, 0.03, 0.03, 0.03, 0.03, 0.03, 0.03, 0.03, 0.03, 0.03, 0.03, 0.03, 0.03, 0.03, 0.03, 0.03, 0.03, 0.03, 0.03, 0.03, 0.03, 0.03, 0.03, 0.03, 0.03, 0.03, 0.03, 0.03, 0.03, 0.03,
    0.02, 0.02, 0.02, 0.02, 0.02, 0.02, 0.02, 0.02, 0.02, 0.02, 0.02, 0.02, 0.02, 0.02, 0.02, 0.02, 0.02, 0.02, 0.02, 0.02, 0.02, 0.02, 0.02, 0.02, 0.02, 0.02, 0.02, 0.02, 0.02, 0.02, 0.02,
]

EOLICA = [
    8, 9, 12, 10, 12, 13, 10, 11, 12, 8, 7, 9, 8, 7, 9, 10, 4, 3, 4, 5, 4, 5, 6, 3, 4, 6, 8, 12, 14, 15, 15,
    15, 13, 10, 8, 9, 7, 7, 6, 7, 8, 6, 8, 9, 8, 7, 8, 7, 6, 9, 8, 8, 9, 7, 8, 7, 8, 9, 5,
    5, 4, 5, 6, 7, 8, 8, 6, 7, 9, 10, 8, 7, 7, 6, 8, 7, 9, 10, 9, 9, 8, 7, 6, 8, 9, 10, 10, 9, 8, 10,
    8, 10, 11, 6, 5, 6, 7, 6, 9, 8, 6, 5, 6, 7, 6, 6, 6, 6, 5, 5, 6, 6, 8, 9, 9, 8, 10, 12, 9, 10,
    9, 8, 10, 12, 14, 12, 10, 9, 7, 6, 8, 10, 12, 9, 8, 6, 5, 7, 6, 5, 7, 8, 6, 7, 9, 8, 6, 10, 12, 8, 7,
    6, 7, 6, 8, 9, 7, 5, 5, 6, 7, 8, 7, 5, 6, 5, 4, 5, 6, 7, 5, 4, 6, 7, 8, 9, 7, 5, 5, 4, 5,
    5, 7, 8, 6, 5, 4, 5, 6, 7, 8, 4, 3, 5, 4, 4, 5, 6, 4, 3, 3, 4, 5, 6, 7, 5, 6, 5, 4, 5, 6, 7,
    5, 4, 5, 6, 5, 6, 8, 6, 5, 6, 7, 6, 7, 8, 9, 8, 6, 5, 6, 8, 9, 7, 6, 5, 6, 7, 8, 9, 6, 5, 5,
    5, 6, 8, 9, 4, 3, 4, 5, 6, 8, 9, 6, 5, 6, 8, 9, 10, 8, 7, 6, 5, 6, 7, 9, 10, 8, 6, 7, 8, 9,
    7, 8, 6, 5, 6, 7, 8, 9, 10, 7, 6, 8, 7, 6, 9, 10, 14, 12, 10, 8, 6, 8, 9, 6, 8, 10, 9, 7, 6, 7, 8,
    8, 6, 5, 7, 9, 10, 8, 6, 5, 7, 9, 8, 10, 10, 12, 13, 14, 15, 14, 12, 14, 12, 8, 6, 5, 7, 8, 6, 5, 5,
    5, 6, 7, 8, 7, 9, 10, 11, 8, 9, 10, 5, 4, 5, 6, 7, 8, 9, 9, 8, 10, 12, 10, 11, 12, 13, 10, 9, 8, 10, 12,
]

HIDRAULICA = [
    5, 6, 8, 15, 8, 6, 8, 7, 6, 5, 6, 5, 6, 6, 5, 5, 6, 7, 6, 5, 6, 5, 4, 6, 7, 6, 5, 7, 8, 8, 14,
    15, 14, 12, 10, 8, 7, 5, 4, 5, 5, 4, 4, 4, 7, 6, 7, 6, 6, 5, 5, 5, 5, 6, 5, 5, 4, 4, 7,
    8, 7, 8, 7, 6, 6, 8, 9, 8, 7, 6, 6, 5, 8, 9, 8, 7, 7, 6, 5, 7, 8, 9, 8, 7, 6, 5, 12, 14, 13, 11,
    12, 11, 10, 16, 15, 14, 13, 12, 14, 12, 12, 13, 12, 11, 6, 6, 6, 6, 6, 6, 7, 18, 18, 16, 22, 24, 24, 23, 22, 20,
    18, 22, 24, 22, 20, 19, 17, 15, 20, 22, 22, 20, 19, 17, 15, 18, 20, 18, 17, 16, 14, 13, 12, 11, 12, 11, 12, 18, 17, 14, 14,
    12, 10, 8, 9, 8, 8, 9, 8, 8, 7, 7, 6, 10, 22, 12, 9, 8, 7, 6, 8, 7, 7, 6, 6, 5, 5, 6, 6, 7, 6,
    6, 5, 5, 7, 7, 6, 7, 6, 5, 4, 5, 6, 6, 6, 5, 5, 4, 5, 6, 6, 6, 5, 5, 4, 5, 5, 5, 5, 5, 4, 4,
    5, 5, 5, 5, 5, 4, 4, 5, 5, 5, 5, 5, 4, 4, 4, 5, 5, 5, 5, 4, 4, 5, 5, 5, 5, 5, 4, 4, 5, 5, 5,
    5, 5, 5, 4, 5, 6, 6, 5, 5, 5, 4, 5, 8, 6, 5, 5, 4, 4, 5, 5, 5, 5, 5, 4, 4, 5, 5, 5, 5, 5,
    5, 5, 5, 8, 6, 5, 5, 5, 4, 5, 5, 5, 5, 5, 5, 4, 5, 5, 4, 5, 5, 4, 4, 5, 5, 5, 5, 5, 4, 4, 4,
    4, 5, 5, 5, 4, 4, 5, 5, 6, 5, 5, 4, 4, 6, 7, 6, 7, 6, 5, 5, 8, 7, 6, 6, 5, 5, 5, 6, 6, 7,
    7, 6, 5, 5, 6, 6, 8, 6, 6, 5, 5, 7, 8, 7, 7, 6, 5, 5, 6, 6, 5, 6, 5, 5, 5, 5, 6, 6, 6, 6, 5,
]

TURBINAT = [
    0.3, 0.3, 1.2, 1.5, 1.0, 0.4, 1.0, 0.5, 0.4, 1.5, 1.6, 1.5, 1.7, 1.8, 0.8, 0.5, 2.0, 2.2, 2.1, 2.0, 1.8, 0.9, 0.6, 1.9, 2.0, 2.0, 1.8, 1.7, 0.8, 0.5, 1.6,
    1.8, 1.7, 1.6, 1.5, 0.8, 0.5, 1.6, 1.8, 1.7, 1.6, 1.5, 0.8, 0.5, 1.5, 1.6, 1.5, 1.5, 1.4, 0.7, 0.5, 1.4, 1.5, 1.5, 1.4, 1.3, 0.7, 0.5, 1.5,
    1.4, 1.5, 1.5, 1.4, 0.7, 0.5, 1.5, 1.5, 1.5, 1.4, 1.3, 0.7, 0.5, 1.4, 1.5, 1.5, 1.4, 1.3, 0.7, 0.5, 1.4, 1.5, 1.5, 1.4, 1.3, 0.7, 0.5, 1.6, 1.7, 1.7, 1.6,
    1.5, 0.8, 0.6, 1.8, 1.7, 1.6, 1.5, 1.5, 0.7, 0.5, 1.5, 1.5, 1.4, 0.8, 0.4, 0.4, 0.3, 0.4, 1.5, 1.6, 1.6, 1.5, 0.8, 0.5, 1.7, 1.8, 1.8, 1.7, 1.6, 0.8,
    0.5, 1.7, 1.8, 1.8, 1.7, 1.6, 0.8, 0.5, 1.6, 1.7, 1.7, 1.6, 1.5, 0.8, 0.5, 1.5, 1.6, 1.6, 1.6, 1.5, 0.7, 0.5, 1.5, 1.5, 1.4, 1.4, 1.3, 0.7, 0.5, 1.4, 1.5,
    1.4, 1.5, 1.4, 0.7, 0.5, 0.6, 1.6, 1.6, 1.7, 1.6, 0.8, 0.6, 2.2, 4.0, 2.6, 2.2, 2.0, 1.0, 0.6, 2.0, 2.1, 2.0, 1.8, 0.6, 0.6, 0.5, 1.6, 1.7, 1.8, 1.8,
    1.5, 0.8, 0.6, 1.6, 1.7, 1.7, 1.8, 1.7, 0.9, 0.6, 1.5, 1.6, 1.6, 1.6, 1.5, 0.9, 0.6, 1.6, 1.7, 1.7, 1.6, 1.5, 0.9, 0.6, 1.5, 1.5, 1.5, 1.4, 1.4, 0.8, 0.6,
    1.5, 1.5, 1.5, 1.4, 1.4, 0.8, 0.6, 1.3, 1.3, 1.3, 1.3, 1.2, 0.7, 0.6, 0.6, 1.1, 1.1, 1.1, 1.1, 0.6, 0.5, 1.2, 1.3, 1.3, 1.3, 1.2, 0.7, 0.6, 1.3, 1.4, 1.4,
    1.4, 1.4, 0.8, 0.6, 1.5, 1.6, 1.6, 1.5, 1.4, 0.8, 0.6, 1.2, 3.5, 1.4, 1.3, 1.2, 0.7, 0.5, 1.1, 1.2, 1.2, 1.1, 1.0, 0.6, 0.5, 0.6, 1.0, 1.0, 1.0, 1.0,
    0.8, 0.6, 1.2, 1.2, 1.2, 1.2, 1.1, 0.6, 0.5, 1.1, 1.1, 0.6, 1.0, 1.0, 0.6, 0.5, 1.0, 1.0, 1.0, 1.0, 1.0, 0.6, 0.5, 1.0, 1.0, 1.0, 1.0, 1.0, 0.6, 0.5, 0.8,
    0.5, 0.9, 1.0, 0.9, 0.6, 0.5, 1.0, 1.0, 1.0, 1.0, 1.0, 0.6, 0.5, 1.0, 1.1, 1.1, 1.1, 1.0, 0.6, 0.5, 1.2, 1.2, 1.3, 1.2, 1.2, 0.7, 0.5, 1.4, 1.5, 1.5,
    1.5, 1.4, 0.8, 0.6, 1.2, 0.7, 1.3, 0.6, 1.1, 0.7, 0.6, 1.8, 1.9, 1.8, 1.7, 1.6, 0.9, 0.6, 1.5, 1.5, 1.4, 1.3, 1.1, 0.6, 0.4, 0.4, 0.9, 1.0, 1.0, 0.9, 0.5,
]

CONSUMS = [
    -2.5, -2.4, -1.5, -1.3, -1.6, -2.3, -1.5, -2.0, -2.4, -1.2, -1.2, -1.3, -1.1, -1.0, -1.8, -2.2, -0.9, -0.8, -0.8, -0.9, -1.0, -1.7, -2.1, -1.0, -0.9, -0.9, -1.0, -1.2, -1.9, -2.3, -1.1,
    -1.0, -1.0, -1.1, -1.2, -1.9, -2.3, -1.1, -1.0, -1.0, -1.1, -1.2, -1.9, -2.4, -1.2, -1.1, -1.1, -1.2, -1.3, -2.0, -2.4, -1.3, -1.2, -1.2, -1.3, -1.4, -2.1, -2.5, -1.2,
    -1.2, -1.2, -1.2, -1.3, -2.0, -2.5, -1.2, -1.2, -1.2, -1.3, -1.4, -2.1, -2.6, -1.3, -1.2, -1.2, -1.3, -1.4, -2.1, -2.6, -1.3, -1.2, -1.2, -1.3, -1.4, -2.2, -2.8, -1.2, -1.1, -1.1, -1.2,
    -1.3, -2.0, -2.4, -1.0, -1.1, -1.2, -1.3, -1.3, -2.1, -2.6, -1.4, -1.4, -1.5, -2.0, -2.8, -3.0, -3.2, -3.0, -1.5, -1.4, -1.4, -1.6, -2.5, -3.0, -1.8, -1.7, -1.7, -1.8, -1.9, -2.6,
    -3.0, -1.8, -1.7, -1.7, -1.8, -1.9, -2.6, -3.0, -1.8, -1.7, -1.7, -1.8, -1.9, -2.6, -3.0, -1.7, -1.6, -1.6, -1.7, -1.8, -2.5, -2.9, -1.7, -1.6, -1.7, -1.7, -1.8, -2.6, -3.0, -1.6, -1.6,
    -1.6, -1.6, -1.7, -2.4, -2.9, -2.6, -1.6, -1.5, -1.5, -1.6, -2.3, -2.7, -1.2, -1.0, -1.0, -1.1, -1.2, -2.0, -2.7, -1.2, -1.2, -1.3, -1.5, -2.8, -2.7, -2.9, -1.6, -1.5, -1.4, -1.4,
    -1.5, -2.4, -2.8, -1.3, -1.2, -1.2, -1.2, -1.3, -2.2, -2.7, -1.0, -0.9, -0.9, -0.9, -1.0, -1.8, -2.4, -0.9, -0.8, -0.8, -0.9, -1.0, -1.8, -2.4, -1.1, -1.0, -1.1, -1.1, -1.2, -2.0, -2.5,
    -1.2, -1.1, -1.1, -1.2, -1.2, -2.0, -2.5, -1.4, -1.3, -1.3, -1.4, -1.4, -2.2, -2.6, -2.5, -1.6, -1.5, -1.5, -1.6, -2.3, -2.7, -1.4, -1.3, -1.3, -1.3, -1.4, -2.2, -2.6, -1.2, -1.2, -1.1,
    -1.2, -1.2, -2.0, -2.5, -1.1, -1.0, -1.0, -1.1, -1.2, -2.0, -2.6, -1.6, -1.2, -1.2, -1.3, -1.4, -2.3, -3.0, -1.5, -1.4, -1.4, -1.5, -1.6, -2.8, -3.2, -2.6, -1.7, -1.6, -1.6, -1.7,
    -2.4, -3.0, -1.8, -1.6, -1.7, -1.8, -2.0, -2.6, -3.0, -1.8, -1.8, -2.6, -1.8, -1.6, -1.8, -2.2, -1.0, -1.0, -1.0, -1.0, -1.1, -1.6, -2.0, -1.0, -1.0, -1.0, -1.0, -1.1, -1.6, -2.1, -1.6,
    -2.0, -1.0, -1.0, -1.0, -1.5, -2.0, -0.9, -0.9, -0.9, -0.9, -1.0, -1.5, -2.0, -0.9, -0.9, -0.9, -0.9, -1.0, -1.5, -1.9, -0.9, -0.9, -0.8, -0.9, -1.0, -1.5, -1.9, -1.1, -1.0, -1.0,
    -1.1, -1.2, -1.8, -2.2, -1.4, -2.0, -1.4, -2.2, -1.6, -1.9, -2.2, -1.0, -1.0, -1.0, -1.1, -1.2, -1.8, -2.2, -1.2, -1.2, -1.3, -1.4, -1.7, -2.4, -2.8, -2.6, -1.8, -1.7, -1.7, -1.9, -2.5,
]

# stacked in Excel order, bottom to top
GENERACIO = [
    ("Nuclear", NUCLEAR, "#C00000"),
    ("Cicles combinats", CICLES, "#7030A0"),
    ("Cogeneració", COGENERACIO, "#FF3DFF"),
    ("Residus no renovables", RESIDUS_NR, "#000000"),
    ("Residus renovables", RESIDUS_R, "#808080"),
    ("Biogàs", BIOGAS, "#8497B0"),
    ("Biomassa", BIOMASSA, "#BF9000"),
    ("Solar fotovoltaica", SOLAR_FV, "#FFFF00"),
    ("Solar tèrmica", SOLAR_TERMICA, "#FFC000"),
    ("Eòlica", EOLICA, "#92D050"),
    ("Hidràulica", HIDRAULICA, "#5B9BD5"),
    ("Turbinat del bombament", TURBINAT, "#9DC3E6"),
]

bad = [(n, len(v)) for n, v in [("Demanda", DEMANDA), ("Consums", CONSUMS)] + [(n, v) for n, v, _ in GENERACIO] if len(v) != len(DIES)]
if bad:
    raise SystemExit(f"wrong lengths: {bad}")

# the exchange balance closes each day: demand minus own generation
BALANC = [round(d - sum(g), 2) for d, *g in zip(DEMANDA, *[v for _, v, _ in GENERACIO])]


def mwh(vals):
    return [v * 1000 for v in vals]


fig = go.Figure()
for name, vals, color in GENERACIO:
    fig.add_trace(go.Bar(x=DIES, y=mwh(vals), name=name, showlegend=False,
                         marker=dict(color=color, line=dict(width=0))))

fig.add_trace(go.Bar(
    x=DIES, y=mwh(CONSUMS), name="Consums bombament", showlegend=False,
    marker=dict(color="white", line=dict(width=0),
                pattern=dict(shape="+", fgcolor="#9DC3E6", bgcolor="white", size=5,
                             solidity=0.25, fgopacity=1)),
))
fig.add_trace(go.Bar(
    x=DIES, y=mwh(BALANC), name="Balanç d'intercanvis elèctrics", showlegend=False,
    marker=dict(color="white", line=dict(width=0),
                pattern=dict(shape="+", fgcolor="#F47070", bgcolor="white", size=5,
                             solidity=0.25, fgopacity=1)),
))

# the page body adds an 8 px margin, so the figure is 8 px smaller than the window
OFF = 8
W, H = 1086 - OFF, 652 - OFF
PLOT_L, PLOT_R, PLOT_T, PLOT_B = 62, 1080, 23, 521   # reference pixels of the plot area
Y_MIN, Y_MAX = -22000, 200400
X_RANGE = [pd.Timestamp("2021-12-31 12:00"), pd.Timestamp("2022-12-31 12:00")]

# soft drop shadow under the demand line: same series on a slightly shifted overlay
SHIFT_X = pd.Timedelta(hours=17)
SHIFT_Y = 1400
fig.add_trace(go.Scatter(
    x=DIES, y=mwh(DEMANDA), mode="lines", showlegend=False, hoverinfo="skip",
    xaxis="x2", yaxis="y2",
    line=dict(color="rgba(0,0,0,0.22)", width=3, shape="spline", smoothing=0.6),
))
fig.add_trace(go.Scatter(
    x=DIES, y=mwh(DEMANDA), name="Demanda diària EBC", mode="lines", showlegend=False,
    xaxis="x3", yaxis="y3",
    line=dict(color="#FF0000", width=2, shape="spline", smoothing=0.6),
))


def px_x(x):
    return (x - PLOT_L) / (PLOT_R - PLOT_L)


def px_y(y):
    return (PLOT_B - y) / (PLOT_B - PLOT_T)


fig.update_layout(
    width=W, height=H,
    barmode="relative", bargap=0, bargroupgap=0,
    margin=dict(l=PLOT_L - OFF, r=W - (PLOT_R - OFF), t=PLOT_T - OFF, b=H - (PLOT_B - OFF)),
    paper_bgcolor="white", plot_bgcolor="white",
    separators=",.",
    font=dict(family=FONT, color="#595959"),
    showlegend=False,
    xaxis2=dict(type="date", overlaying="x", anchor="y2", visible=False,
                range=[X_RANGE[0] - SHIFT_X, X_RANGE[1] - SHIFT_X]),
    yaxis2=dict(overlaying="y", anchor="x2", visible=False,
                range=[Y_MIN + SHIFT_Y, Y_MAX + SHIFT_Y]),
    xaxis3=dict(type="date", overlaying="x", anchor="y3", visible=False, range=X_RANGE),
    yaxis3=dict(overlaying="y", anchor="x3", visible=False, range=[Y_MIN, Y_MAX]),
)
fig.update_layout(yaxis=dict(
    range=[Y_MIN, Y_MAX], tickvals=[0, 50000, 100000, 150000, 200000], tickformat=",.0f",
    showgrid=True, gridcolor="#D9D9D9", gridwidth=1, zeroline=False, showline=False,
    tickfont=dict(family=FONT, size=12.5, color="#595959"), ticks="",
))
fig.update_layout(xaxis=dict(
    type="date", range=X_RANGE,
    tickvals=TICKS, tickformat="%d/%m/%Y", tickangle=-55,
    tickfont=dict(family=FONT, size=10.5, color="#595959", shadow="1px 2px 2px rgba(0,0,0,0.35)"),
    showgrid=False, zeroline=False, showline=False, ticks="",
    anchor="free", position=(0 - Y_MIN) / (Y_MAX - Y_MIN),
))

# title over the top gridline
fig.add_annotation(
    text="<b>Balanç elèctric diari a Catalunya l'any 2022, en MWh</b>",
    xref="paper", yref="paper", x=px_x(565), y=px_y(17), xanchor="center", yanchor="middle",
    showarrow=False, bgcolor="white", borderpad=3,
    font=dict(family=FONT, size=17, color="#404040"),
)
fig.add_annotation(
    text="<b>(la línia en vermell representa la demanda EBC diària)</b>",
    xref="paper", yref="paper", x=px_x(546), y=px_y(40), xanchor="center", yanchor="middle",
    showarrow=False, font=dict(family=FONT, size=14.5, color="#404040"),
)

# highlight of the autumn nuclear outage
fig.add_shape(type="circle", xref="x", yref="y", x0="2022-10-03", x1="2022-12-19",
              y0=80000, y1=138000, line=dict(color="#FFB400", width=4), layer="above")

# legend drawn by hand: 5 columns x 3 rows, Excel-like swatches
LEGEND = [(n, "bar", c) for n, _, c in GENERACIO] + [
    ("Consums bombament", "hatch", "#9DC3E6"),
    ("Balanç d'intercanvis elèctrics", "hatch", "#FF3030"),
    ("Demanda diària EBC", "line", "#FF0000"),
]
COL_X = [75, 288, 501, 715, 928]
ROW_Y = [575, 607, 639]
for i, (name, kind, color) in enumerate(LEGEND):
    x0, yc = COL_X[i % 5], ROW_Y[i // 5]
    x1 = x0 + 29
    if kind == "bar":
        fig.add_shape(type="rect", xref="paper", yref="paper", x0=px_x(x0), x1=px_x(x1),
                      y0=px_y(yc + 3), y1=px_y(yc - 3), fillcolor=color, line=dict(width=0))
    elif kind == "line":
        fig.add_shape(type="line", xref="paper", yref="paper", x0=px_x(x0), x1=px_x(x1),
                      y0=px_y(yc), y1=px_y(yc), line=dict(color=color, width=2))
    else:
        fig.add_shape(type="line", xref="paper", yref="paper", x0=px_x(x0), x1=px_x(x1),
                      y0=px_y(yc - 3), y1=px_y(yc - 3), line=dict(color=color, width=1))
        for k in range(5):
            xt = x0 + 2 + k * 6
            fig.add_shape(type="line", xref="paper", yref="paper", x0=px_x(xt), x1=px_x(xt),
                          y0=px_y(yc - 3), y1=px_y(yc + 4), line=dict(color=color, width=1))
    fig.add_annotation(text=name, xref="paper", yref="paper", x=px_x(x1 + 3), y=px_y(yc),
                       xanchor="left", yanchor="middle", showarrow=False,
                       font=dict(family=FONT, size=11.5, color="#404040"))

fig.write_html("out.html")
